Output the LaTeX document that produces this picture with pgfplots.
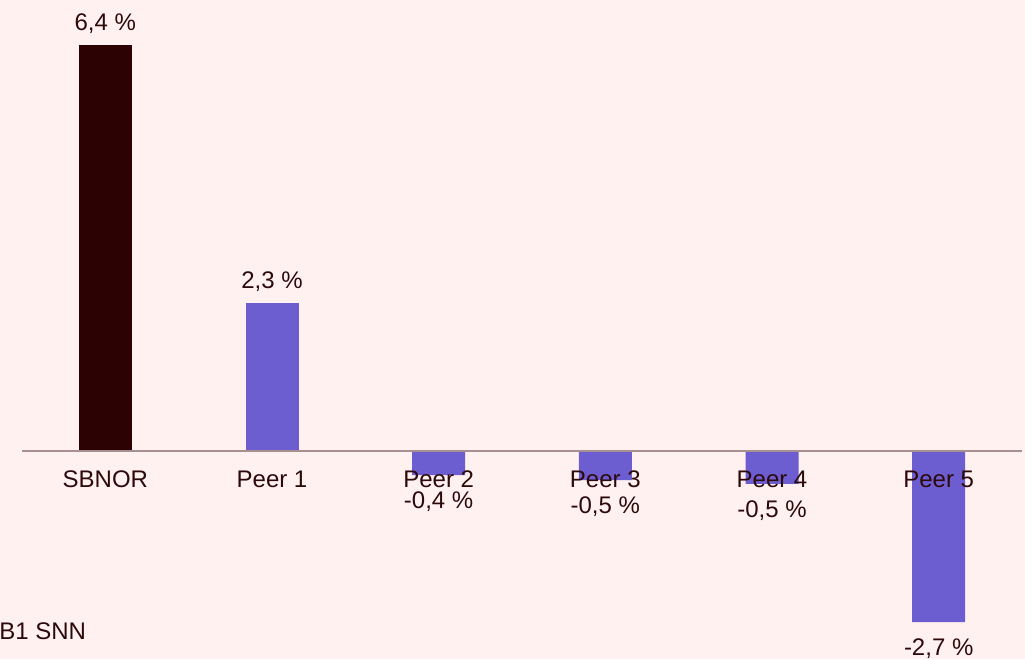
\documentclass[border=0pt]{standalone}
\usepackage{pgfplots}
\pgfplotsset{compat=1.18}
\usepackage{fontspec}
\setmainfont{Liberation Sans}
\usetikzlibrary{backgrounds}
\definecolor{bgpink}{HTML}{FFF1F0}
\definecolor{darkbar}{HTML}{2D0202}
\definecolor{peerbar}{HTML}{6C5DD0}
\definecolor{txt}{HTML}{2D0A0A}
\definecolor{zeroline}{HTML}{A89090}

\pgfplotstableread{
x  y     lab
0  6.4   {6,4 \%}
}\sbnor
\pgfplotstableread{
x  y      lab
1  2.33   {2,3 \%}
}\peerpos
\pgfplotstableread{
x  y      lab
2  -0.38  {-0,4 \%}
3  -0.46  {-0,5 \%}
4  -0.52  {-0,5 \%}
5  -2.70  {-2,7 \%}
}\peerneg

\begin{document}
\begin{tikzpicture}[font=\fontsize{12}{14}\selectfont, text=txt]
\begin{axis}[
  scale only axis,
  width=500pt, height=329.5pt,
  xmin=-0.5, xmax=5.5,
  ymin=-3.28, ymax=7.11,
  axis x line=middle,
  hide y axis,
  axis on top,
  x axis line style={draw=zeroline, line width=1pt, -},
  xtick={0,1,2,3,4,5},
  xticklabels={SBNOR,Peer 1,Peer 2,Peer 3,Peer 4,Peer 5},
  major tick length=0pt,
  xticklabel style={text=txt, yshift=-6.5pt},
  ybar, bar width=26.5pt, bar shift=0pt,
  nodes near coords,
  point meta=explicit symbolic,
  every node near coord/.append style={text=txt, inner sep=5.5pt},
  clip=false,
]
\addplot[fill=darkbar, draw=none] table[x=x, y=y, meta=lab] {\sbnor};
\addplot[fill=peerbar, draw=none] table[x=x, y=y, meta=lab] {\peerpos};
\addplot[fill=peerbar, draw=none,
  every node near coord/.append style={anchor=north, yshift=-2.5pt}]
  table[x=x, y=y, meta=lab] {\peerneg};
\coordinate (bl) at (rel axis cs:0,0);
\coordinate (tr) at (rel axis cs:1,1);
\end{axis}
\node[anchor=west, inner sep=0pt] at ([xshift=-11.5pt, yshift=14pt]bl) {B1 SNN};
\begin{scope}[on background layer]
\fill[bgpink] ([xshift=-11pt]bl) rectangle ([xshift=1.5pt]tr);
\end{scope}
\pgfresetboundingbox
\path[use as bounding box] ([xshift=-11pt]bl) rectangle ([xshift=1.5pt]tr);
\end{tikzpicture}
\end{document}
